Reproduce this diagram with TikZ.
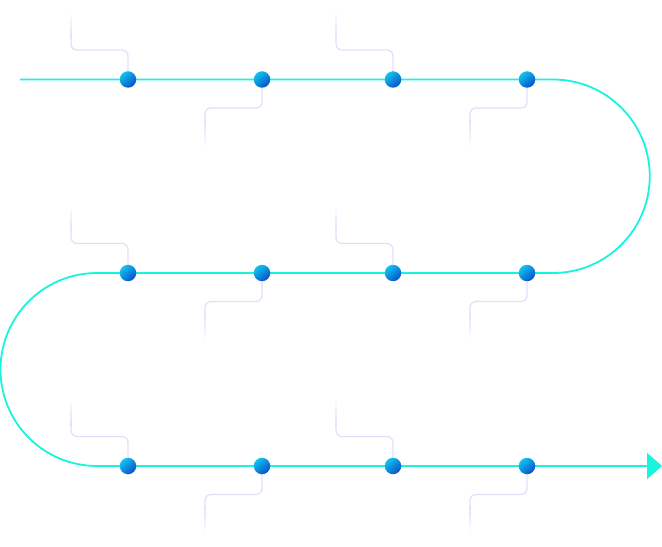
\documentclass[tikz,border=0pt]{standalone}
\usetikzlibrary{arrows.meta}
\definecolor{track}{RGB}{24,244,222}
\definecolor{lilac}{RGB}{226,222,250}
\definecolor{dotlight}{RGB}{16,196,240}
\definecolor{dotdark}{RGB}{8,80,200}
\tikzset{
  trackline/.style={draw=track, line width=1.8bp},
  stop/.style={circle, minimum size=16.5bp, inner sep=0pt,
    shading=axis, top color=dotlight, bottom color=dotdark, shading angle=40},
  lead/.style={draw=lilac, line width=1.2bp, rounded corners=6bp},
  tailup/.style={top color=white, bottom color=lilac, draw=none},
  taildown/.style={top color=lilac, bottom color=white, draw=none},
}
\begin{document}
\begin{tikzpicture}[x=1bp, y=-1bp]
\useasboundingbox (0,0) rectangle (662,547);

% stop positions
\foreach \r/\yy in {1/79.5, 2/273, 3/466}{
  \foreach \c/\xx in {1/128, 2/262, 3/393, 4/527}{
    \coordinate (p\r\c) at (\xx,\yy);
  }
}
\coordinate (start) at (20,79.5);
\coordinate (turnR1) at (553,79.5);
\coordinate (turnR2) at (553,273);
\coordinate (turnL1) at (97,273);
\coordinate (turnL2) at (97,466);
\coordinate (finish) at (662,466);

% lead lines above stops 1 and 3, below stops 2 and 4
\foreach \r in {1,2,3}{
  \foreach \c in {1,3}{
    \draw[lead] (p\r\c) -- ++(0,-29.5) -- ++(-57,0) -- ++(0,-12);
    \shade[tailup] ([shift={(-57.6,-41)}]p\r\c) rectangle ++(1.2,-27);
  }
  \foreach \c in {2,4}{
    \draw[lead] (p\r\c) -- ++(0,28.5) -- ++(-57,0) -- ++(0,12);
    \shade[taildown] ([shift={(-57.6,40)}]p\r\c) rectangle ++(1.2,28);
  }
}

% the winding track
\draw[trackline, -{Triangle[length=15bp, width=26bp]}]
  (start) -- (p11) -- (p12) -- (p13) -- (p14) -- (turnR1)
  arc[start angle=-90, end angle=90, radius=96.75]
  (turnR2) -- (p24) -- (p23) -- (p22) -- (p21) -- (turnL1)
  arc[start angle=-90, end angle=-270, radius=96.5]
  (turnL2) -- (p31) -- (p32) -- (p33) -- (p34) -- (finish);

% stops
\foreach \r in {1,2,3}{
  \foreach \c in {1,2,3,4}{
    \node[stop] (s\r\c) at (p\r\c) {};
  }
}
\end{tikzpicture}
\end{document}
